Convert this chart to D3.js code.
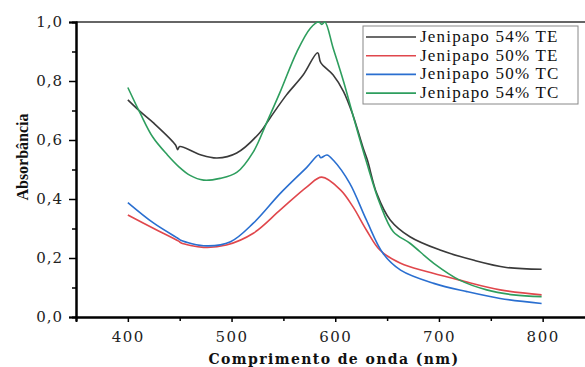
<!DOCTYPE html>
<html>
<head>
<meta charset="utf-8">
<script src="https://cdn.jsdelivr.net/npm/d3@7"></script>
<style>
  body { margin: 0; background: #fff; }
  svg { display: block; }
</style>
</head>
<body>
<div id="chart"></div>
<script>
var svgWidth = 585;
var svgHeight = 367;

// wavelength (nm) and absorbance for each sample
var te54Wave = [400, 412, 425, 446, 448, 450, 470, 486, 505, 527, 537, 553, 569, 583, 586, 598, 608, 617, 627, 631, 640, 653, 672, 701, 733, 765, 799];
var te54Abs  = [0.736, 0.696, 0.657, 0.583, 0.567, 0.578, 0.550, 0.539, 0.556, 0.624, 0.674, 0.753, 0.820, 0.896, 0.862, 0.820, 0.764, 0.685, 0.572, 0.532, 0.419, 0.329, 0.272, 0.227, 0.193, 0.168, 0.162];

var te50Wave = [400, 425, 449, 451, 473, 495, 521, 547, 573, 587, 605, 617, 630, 643, 663, 688, 720, 759, 799];
var te50Abs  = [0.346, 0.300, 0.257, 0.252, 0.236, 0.244, 0.284, 0.363, 0.442, 0.474, 0.431, 0.374, 0.295, 0.227, 0.182, 0.154, 0.125, 0.092, 0.075];

var tc50Wave = [400, 425, 449, 451, 476, 499, 521, 547, 573, 584, 586, 592, 598, 614, 630, 646, 663, 695, 727, 759, 799];
var tc50Abs  = [0.388, 0.318, 0.265, 0.260, 0.241, 0.255, 0.318, 0.419, 0.509, 0.549, 0.540, 0.549, 0.532, 0.453, 0.329, 0.216, 0.159, 0.114, 0.086, 0.063, 0.046];

var tc54Wave = [400, 412, 424, 438, 449, 460, 473, 489, 505, 521, 534, 547, 563, 576, 584, 587, 590, 598, 608, 617, 630, 643, 656, 672, 695, 720, 746, 772, 799];
var tc54Abs  = [0.778, 0.690, 0.610, 0.550, 0.510, 0.480, 0.464, 0.470, 0.490, 0.560, 0.660, 0.764, 0.899, 0.979, 1.000, 0.992, 1.000, 0.911, 0.798, 0.685, 0.527, 0.385, 0.289, 0.250, 0.182, 0.125, 0.092, 0.075, 0.069];

var seriesNames = ["Jenipapo 54% TE", "Jenipapo 50% TE", "Jenipapo 50% TC", "Jenipapo 54% TC"];
var seriesColors = ["#3a3a3a", "#e0474c", "#2a6fd0", "#2e9e5e"];

var yMajorTicks = [0, 0.2, 0.4, 0.6, 0.8, 1.0];
var yMinorTicks = [0.1, 0.3, 0.5, 0.7, 0.9];
var xMajorTicks = [400, 500, 600, 700, 800];
var xMinorTicks = [450, 550, 650, 750];

var allSeries = [
  { name: seriesNames[0], color: seriesColors[0], wave: te54Wave, abs: te54Abs },
  { name: seriesNames[1], color: seriesColors[1], wave: te50Wave, abs: te50Abs },
  { name: seriesNames[2], color: seriesColors[2], wave: tc50Wave, abs: tc50Abs },
  { name: seriesNames[3], color: seriesColors[3], wave: tc54Wave, abs: tc54Abs }
];

var svg = d3.select("#chart")
  .append("svg")
  .attr("width", svgWidth)
  .attr("height", svgHeight);

var xScale = d3.scaleLinear().domain([350, 850]).range([76, 594.5]);
var yScale = d3.scaleLinear().domain([0, 1]).range([317, 22]);

var serif = "'DejaVu Serif', 'Liberation Serif', serif";

// top frame line
svg.append("line")
  .attr("x1", 76).attr("x2", svgWidth)
  .attr("y1", yScale(1)).attr("y2", yScale(1))
  .attr("stroke", "#333").attr("stroke-width", 1.5);

// curves
var line = d3.line()
  .x(d => xScale(d[0]))
  .y(d => yScale(d[1]))
  .curve(d3.curveCatmullRom.alpha(0.5));

allSeries.forEach(function(s) {
  var pts = s.wave.map((w, i) => [w, s.abs[i]]);
  svg.append("path")
    .datum(pts)
    .attr("d", line)
    .attr("fill", "none")
    .attr("stroke", s.color)
    .attr("stroke-width", 1.6);
});

// axes
var leftAxis = d3.axisLeft(yScale)
  .tickValues(yMajorTicks)
  .tickSize(7)
  .tickPadding(6)
  .tickFormat(d => d3.format(".1f")(d).replace(".", ","));
var leftMinor = d3.axisLeft(yScale).tickValues(yMinorTicks).tickSize(4).tickFormat("");

var bottomAxis = d3.axisBottom(xScale)
  .tickValues(xMajorTicks)
  .tickSize(5)
  .tickPadding(9)
  .tickFormat(d3.format("d"));
var bottomMinor = d3.axisBottom(xScale).tickValues(xMinorTicks).tickSize(4).tickFormat("");

var yAxisG = svg.append("g").attr("transform", "translate(76,0)").call(leftAxis);
svg.append("g").attr("transform", "translate(76,0)").call(leftMinor);
var xAxisG = svg.append("g").attr("transform", "translate(0,317)").call(bottomAxis);
svg.append("g").attr("transform", "translate(0,317)").call(bottomMinor);

svg.selectAll(".domain").attr("stroke", "#000").attr("stroke-width", 2);
svg.selectAll(".tick line").attr("stroke", "#000").attr("stroke-width", 1.5);

yAxisG.selectAll("text")
  .attr("font-family", serif)
  .attr("font-size", "15px")
  .attr("letter-spacing", "1px")
  .attr("fill", "#222");
xAxisG.selectAll("text")
  .attr("font-family", serif)
  .attr("font-size", "15px")
  .attr("letter-spacing", "1.5px")
  .attr("fill", "#222");

// axis titles
svg.append("text")
  .attr("transform", "translate(28,157) rotate(-90)")
  .attr("text-anchor", "middle")
  .attr("font-family", "'Liberation Serif', serif")
  .attr("font-weight", "bold")
  .attr("font-size", "16px")
  .attr("fill", "#111")
  .text("Absorbância");

svg.append("text")
  .attr("x", 334)
  .attr("y", 364)
  .attr("text-anchor", "middle")
  .attr("font-family", serif)
  .attr("font-weight", "bold")
  .attr("font-size", "14px")
  .attr("letter-spacing", "1.4px")
  .attr("fill", "#111")
  .text("Comprimento de onda (nm)");

// legend
var legend = svg.append("g").attr("transform", "translate(363,26)");
legend.append("rect")
  .attr("width", 215).attr("height", 78)
  .attr("fill", "#fff")
  .attr("stroke", "#888").attr("stroke-width", 1);

var rows = legend.selectAll(".row")
  .data(allSeries)
  .enter()
  .append("g")
  .attr("transform", (d, i) => `translate(0, ${11 + i * 18.7})`);
rows.append("line")
  .attr("x1", 3).attr("x2", 53)
  .attr("stroke", d => d.color)
  .attr("stroke-width", 1.6);
rows.append("text")
  .attr("x", 57)
  .attr("y", 5)
  .attr("font-family", "'Liberation Serif', serif")
  .attr("font-size", "17px")
  .attr("letter-spacing", "1.2px")
  .attr("fill", "#111")
  .text(d => d.name);
</script>
</body>
</html>
